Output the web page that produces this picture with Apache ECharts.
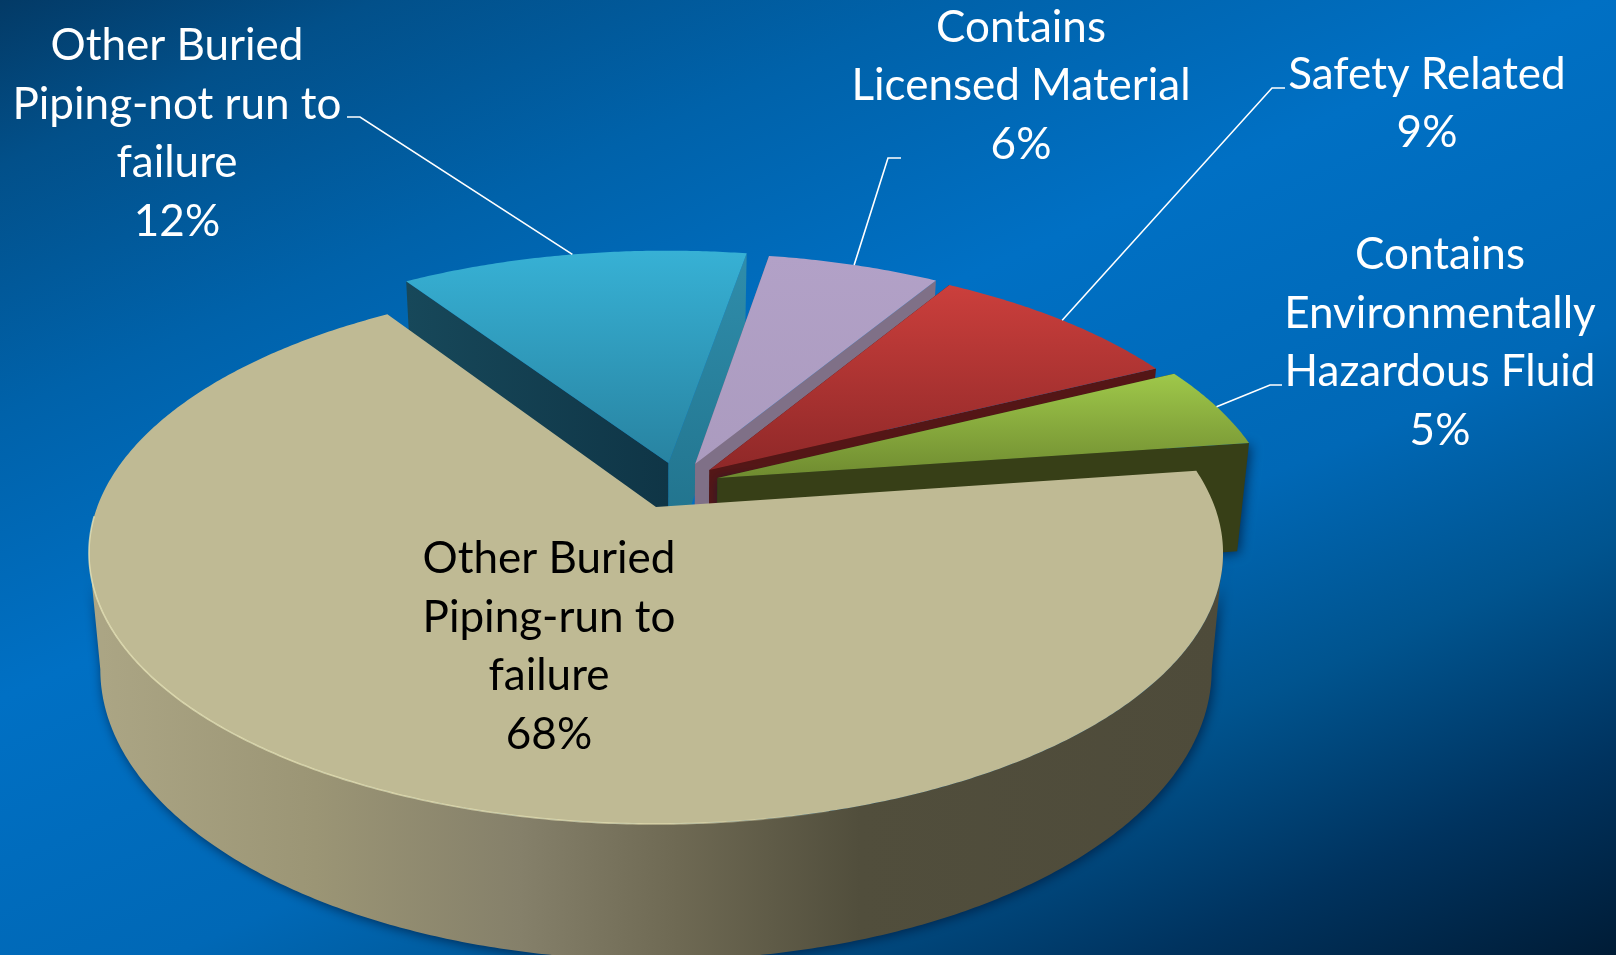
<!DOCTYPE html>
<html>
<head>
<meta charset="utf-8">
<style>html,body{margin:0;padding:0;background:#00508c}#c{width:1616px;height:955px}</style>
<script src="https://cdn.jsdelivr.net/npm/echarts@6/dist/echarts.min.js"></script>
</head>
<body>
<div id="c"></div>
<script>
// ---- data ----
const categories = [
  'Other Buried\nPiping-not run to\nfailure',
  'Contains\nLicensed Material',
  'Safety Related',
  'Contains\nEnvironmentally\nHazardous Fluid',
  'Other Buried\nPiping-run to\nfailure'
];
const percentValues = [12, 6, 9, 5, 68];

// ---- view (perspective pie seen from above) ----
const VIEW = {cx: 656, cy: 507, A: 558.8, B: 263.2, k: 0.1698, depth: 113, baseScale: 0.98, startDeg: -33.3};
// world-space displacement of each slice
const explodeU = [0.023, 0.072, 0.098, 0.112, 0];
const explodeV = [-0.172, -0.168, -0.144, -0.112, 0];
const sliceRadius = [0.995, 0.985, 0.985, 1.005, 1];

const topFill = [
  ['#37b1d5', '#2883a1'],
  ['#b2a1c7', '#ab9bbf'],
  ['#cb3f3c', '#8f2828'],
  ['#9fc84a', '#6f8b30'],
  ['#bfba94', '#bfba94']
];
const leftWall = ['#0f3546', '#6d6076', '#4a1212', '#333b14', '#4e4b3a'];
const rightWall = ['#1f6f88', '#7f7087', '#541616', '#373f17', '#4e4b3a'];

const labelPos = [[177, 134], [1021, 86], [1427, 104], [1440, 343], [549, 647]];
const labelFill = ['#fff', '#fff', '#fff', '#fff', '#000'];
const leaderStart = [[347, 117], [901, 158], [1285, 88], [1282, 385], null];
const leaderElbow = [[360, 117], [888, 158], [1272, 88], [1270, 385], null];

const total = percentValues.reduce((a, b) => a + b, 0);
const G = echarts.graphic;
// clockwise-from-rear angles where the rim is widest on screen
const sideDeg = Math.acos(-VIEW.k) * 180 / Math.PI;

function project(u, v, base) {
  const w = 1 - VIEW.k * v;
  let x = VIEW.A * u / w, y = VIEW.B * v / w;
  if (base) { x *= VIEW.baseScale; y += VIEW.depth / w; }
  return [VIEW.cx + x, VIEW.cy + y];
}
function rim(i, deg, base) {
  const a = deg * Math.PI / 180, r = sliceRadius[i];
  return project(explodeU[i] + r * Math.sin(a), explodeV[i] - r * Math.cos(a), base);
}
function arc(i, d0, d1, base) {
  const pts = [], n = Math.max(2, Math.ceil(Math.abs(d1 - d0) * 2));
  for (let j = 0; j <= n; j++) pts.push(rim(i, d0 + (d1 - d0) * j / n, base));
  return pts;
}
function renderSlice(params, api) {
  const i = params.dataIndex;
  let before = 0;
  for (let j = 0; j < i; j++) before += percentValues[j];
  const val = api.value(0);
  const d0 = VIEW.startDeg + before / total * 360;
  const d1 = d0 + val / total * 360;
  const mid = (d0 + d1) / 2;
  const apexT = project(explodeU[i], explodeV[i], false);
  const apexB = project(explodeU[i], explodeV[i], true);
  const children = [];
  const shadow = {shadowBlur: 12, shadowColor: 'rgba(0,25,60,0.75)', shadowOffsetX: 2, shadowOffsetY: 2};

  if (i === 4) {
    // visible (front) outer wall of the large slice
    const w0 = Math.max(d0, sideDeg), w1 = Math.min(d1, 360 - sideDeg);
    const wall = arc(i, w0, w1, false).concat(arc(i, w0, w1, true).reverse());
    children.push({type: 'polygon', shape: {points: wall}, style: Object.assign({
      fill: new G.LinearGradient(0, 0, 1, 0, [
        {offset: 0, color: '#aca685'}, {offset: 0.2, color: '#9b9575'},
        {offset: 0.38, color: '#85806a'}, {offset: 0.52, color: '#6e6953'},
        {offset: 0.68, color: '#514e3c'}, {offset: 1, color: '#4e4b3a'}
      ])
    }, shadow)});
  } else {
    // radial walls
    const a = rim(i, d0, false), b = rim(i, d1, false);
    const aB = rim(i, d0, true), bB = rim(i, d1, true);
    const lf = i === 0
      ? new G.LinearGradient(0, 0, 1, 0, [{offset: 0, color: '#17485a'}, {offset: 1, color: '#0f3546'}])
      : leftWall[i];
    children.push({type: 'polygon', shape: {points: [apexT, a, aB, apexB]}, style: {fill: lf}});
    const rf = i === 0
      ? new G.LinearGradient(0, 0, 0, 1, [{offset: 0, color: '#2f8dab'}, {offset: 1, color: '#1f6f88'}])
      : rightWall[i];
    children.push({type: 'polygon', shape: {points: [apexT, b, bB, apexB]}, style: Object.assign({fill: rf}, i === 3 ? shadow : {})});
  }
  // top face
  const face = [apexT].concat(arc(i, d0, d1, false));
  children.push({type: 'polygon', shape: {points: face}, style: {
    fill: new G.LinearGradient(0, 0, 0, 1, [{offset: 0, color: topFill[i][0]}, {offset: 1, color: topFill[i][1]}])
  }});
  if (i === 4) {
    children.push({type: 'polyline', shape: {points: arc(i, 268, 165, false)}, style: {
      fill: null, lineWidth: 1.6,
      stroke: new G.LinearGradient(0, 0, 1, 0, [
        {offset: 0, color: 'rgba(238,232,185,0.75)'}, {offset: 0.8, color: 'rgba(238,232,185,0.6)'}, {offset: 1, color: 'rgba(238,232,185,0.1)'}
      ])
    }});
  }
  // leader
  if (leaderStart[i]) {
    children.push({type: 'polyline', shape: {points: [leaderStart[i], leaderElbow[i], rim(i, mid, false)]},
      style: {fill: null, stroke: '#fff', lineWidth: 1.6}});
  }
  // label
  children.push({type: 'text', z2: 10, style: {
    text: categories[i] + '\n' + val + '%',
    x: labelPos[i][0], y: labelPos[i][1],
    fill: labelFill[i], align: 'center', verticalAlign: 'middle',
    fontFamily: 'Lato', fontSize: 44, lineHeight: 58.5
  }});
  return {type: 'group', children};
}

const chart = echarts.init(document.getElementById('c'), null, {width: 1616, height: 955});
chart.setOption({
  animation: false,
  backgroundColor: new G.LinearGradient(0, 0, 0.377, 1.46, [
    {offset: 0, color: '#033a66'},
    {offset: 0.1, color: '#02508a'},
    {offset: 0.25, color: '#0062aa'},
    {offset: 0.42, color: '#0070c4'},
    {offset: 0.62, color: '#0068b6'},
    {offset: 0.75, color: '#00548f'},
    {offset: 0.88, color: '#00335f'},
    {offset: 1, color: '#001c36'}
  ]),
  series: [{
    type: 'custom',
    coordinateSystem: 'none',
    renderItem: renderSlice,
    data: percentValues.map((v, i) => ({name: categories[i], value: [v]})),
    silent: true
  }]
});
</script>
</body>
</html>
